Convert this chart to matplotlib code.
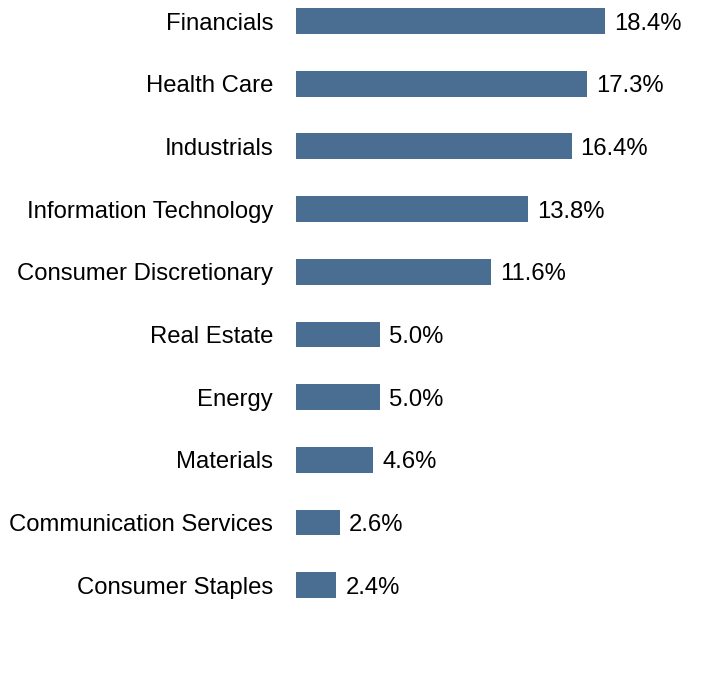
import matplotlib.pyplot as plt

plt.rcParams['font.family'] = ['Liberation Sans', 'DejaVu Sans']

sectores = ['Financials', 'Health Care', 'Industrials', 'Information Technology',
            'Consumer Discretionary', 'Real Estate', 'Energy', 'Materials',
            'Communication Services', 'Consumer Staples']
pesos = [18.4, 17.3, 16.4, 13.8, 11.6, 5.0, 5.0, 4.6, 2.6, 2.4]
etiquetas = ['18.4%', '17.3%', '16.4%', '13.8%', '11.6%', '5.0%', '5.0%', '4.6%', '2.6%', '2.4%']

fig = plt.figure(figsize=(7.2, 6.96), dpi=100)
ax = fig.add_axes([296 / 720, 0, 424 / 720, 1])

posiciones = list(range(len(sectores)))
barras = ax.barh(posiciones, pesos, height=0.41, color='#4a6d92')

# etiquetas de valor al final de cada barra
for b, txt in zip(barras, etiquetas):
    ax.annotate(txt, (b.get_width(), b.get_y() + b.get_height() / 2),
                xytext=(9, 0), textcoords='offset pixels',
                va='center_baseline', ha='left', fontsize=17.2, color='black')

ax.set_yticks(posiciones)
ax.set_yticklabels(sectores, fontsize=17.2)
ax.tick_params(axis='y', length=0, pad=16.5)
ax.set_xticks([])
ax.set_xlim(0, 424 / 16.8)
ax.set_ylim((696 - 21) / 62.67, -21 / 62.67)
for s in ax.spines.values():
    s.set_visible(False)

plt.savefig('out.png', dpi=100)
